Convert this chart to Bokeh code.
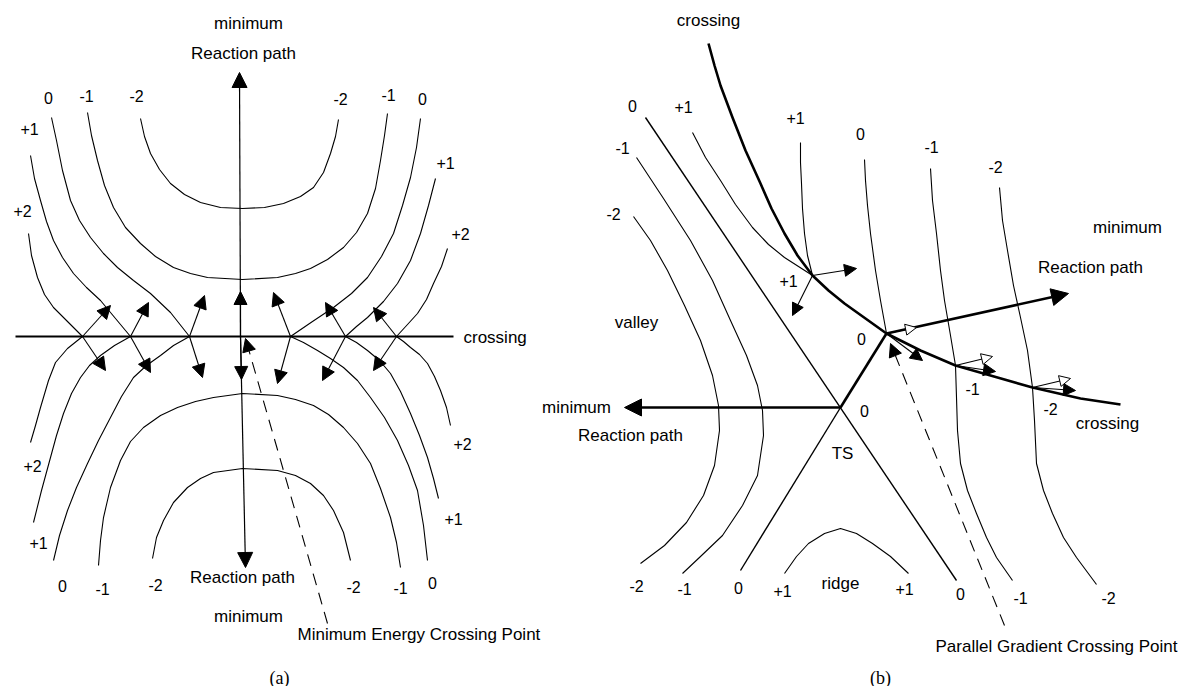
from bokeh.plotting import figure
from bokeh.models import Range1d, Arrow, NormalHead, ColumnDataSource
from bokeh.embed import file_html
from bokeh.resources import INLINE
from bokeh.core.properties import value

# ---------------- Panel (a) data (image-pixel coordinates) ----------------
a_seam = [(15, 336), (453, 336)]
a_p2_ul = [(28,233),(31,255),(37,277),(44,294),(53,307),(66,320),(82,336)]
a_p1_ul = [(30,155),(34,178),(40,200),(46,221),(53,240),(62,257),(73,273),(86,287),(100,300),(115,318),(130,336)]
a_0_ul = [(51,117),(56,140),(62,170),(70,200),(79,220),(90,237),(103,253),(117,267),(133,280),(150,293),(170,312),(189,336)]
a_m1_u = [(87,112),(91,135),(97,160),(104,185),(113,207),(125,227),(140,243),(155,256),(173,267),(190,273),(207,277),(242,279),
          (277,277),(295,273),(310,268),(327,259),(343,247),(356,232),(367,213),(375,188),(380,160),(384,135),(387,113)]
a_m2_u = [(140,118),(144,136),(150,153),(159,169),(170,183),(184,194),(200,202),(220,207),(242,208),(264,207),(283,203),
          (300,196),(313,187),(323,172),(330,153),(335,136),(338,119)]
a_0_ur = [(420,118),(416,147),(410,177),(402,205),(393,233),(381,256),(367,277),(351,293),(333,307),(312,321),(290,336)]
a_p1_ur = [(435,178),(428,205),(420,233),(410,260),(397,283),(383,301),(367,317),(356,326),(345,336)]
a_p2_ur = [(447,248),(441,266),(433,283),(426,299),(417,313),(407,324),(396,336)]
a_p2_ll = [(82,336),(67,348),(55,362),(48,380),(40,407),(35,425),(30,442)]
a_p1_ll = [(130,336),(114,345),(100,355),(89,365),(80,377),(71,393),(63,413),(56,435),(50,457),(41,490),(33,522)]
a_0_ll = [(189,336),(173,345),(160,355),(146,365),(133,377),(121,396),(110,417),(98,440),(87,463),(76,487),(67,510),(59,535),(53,560)]
a_m1_l = [(98,565),(100,540),(103,517),(110,487),(120,460),(130,441),(143,427),(160,415),(177,407),(195,401),(213,397),(242,393),
          (277,395),(295,399),(313,405),(328,414),(343,427),(357,443),(370,463),(380,488),(390,517),(396,542),(400,567)]
a_m2_l = [(152,558),(156,537),(163,520),(173,502),(187,487),(200,478),(213,472),(242,468),(277,470),(295,475),(310,483),
          (323,495),(333,510),(343,532),(350,560)]
a_0_lr = [(290,336),(303,342),(317,350),(330,358),(343,367),(357,380),(370,397),(384,417),(397,440),(408,465),(417,490),(423,525),(427,560)]
a_p1_lr = [(345,336),(356,342),(367,350),(379,360),(390,373),(400,391),(410,413),(419,435),(427,457),(433,478),(438,498)]
a_p2_lr = [(396,336),(403,341),(410,347),(419,354),(427,363),(434,376),(440,390),(446,407),(450,425)]

a_seam_pts_x = [82, 130, 189, 290, 345, 396]
a_seam_y = 336
a_up_tips = [(110,305),(148,302),(204,295),(273,292),(325,302),(373,307)]
a_down_tips = [(105,370),(150,372),(202,377),(277,383),(322,380),(373,370)]
a_path_center = (240, 336)
a_path_ends = [(239,72),(245,567)]
a_path_mid_tips = [(240,291),(241,379)]
a_dash = [(327,623),(245,338)]

a_lbl_text = ["0","-1","-2","-2","-1","0","+1","+1","+2","+2",
              "+2","+1","0","-1","-2","-2","-1","0","+1","+2"]
a_lbl_x = [48,86,136,340,388,422,29,445,22,460, 32,38,62,102,155,353,400,432,453,462]
a_lbl_y = [97,95,95,98,94,98,128,162,210,233, 465,542,585,588,584,586,587,582,518,443]
a_words = ["minimum","Reaction path","Reaction path","minimum"]
a_words_x = [248,243,242,248]
a_words_y = [23,53,577,616]

# ---------------- Panel (b) data ----------------
b_cross_top = [(708,43),(714,65),(720,85),(726,101),(732,117),(745,150),(760,183),(771,208),(784,233),(797,255),
               (812,275),(828,290),(844,303),(865,318),(886,333)]
b_cross_bot = [(886,333),(920,350),(955,365),(997,377),(1032,387),(1080,398),(1120,404)]
b_p1_a = [(692,132),(705,157),(720,180),(735,204),(752,227),(768,244),(784,257),(798,266),(812,275)]
b_p1_b = [(800,142),(800,162),(801,183),(802,208),(804,233),(807,255),(812,275)]
b_0_r = [(864,159),(865,180),(867,205),(870,233),(875,270),(880,300),(886,333)]
b_m1_r = [(930,168),(932,200),(936,233),(940,270),(944,300),(950,335),(955,365),(956,397),(957,430),(960,463),
          (967,490),(976,513),(986,537),(996,557),(1012,580)]
b_m2_r = [(999,187),(1002,220),(1007,250),(1013,285),(1020,317),(1027,350),(1032,387),(1034,420),(1036,463),
          (1043,490),(1052,513),(1063,537),(1076,557),(1096,584)]
b_m1_l = [(636,157),(663,198),(690,240),(712,280),(730,320),(746,355),(757,385),(762,410),(763,435),(757,475),
          (742,505),(722,535),(700,556),(682,573)]
b_m2_l = [(633,216),(650,240),(667,270),(684,305),(700,340),(712,375),(718,405),(719,430),(714,465),(703,495),
          (686,522),(664,545),(640,563)]
b_ts_a = [(645,117),(956,580)]
b_ts_b = [(740,570),(840,407)]
b_ts_thick = [(840,407),(886,333)]
b_ridge = [(784,573),(796,556),(808,543),(824,533),(840,528),(856,533),(872,543),(890,556),(908,573)]

b_path_right = [(886,333),(1068,293)]
b_path_left = [(840,407),(624,407)]
b_small_filled = [((812,275),(856,268)),((812,275),(792,315)),((886,333),(922,360)),
                  ((955,365),(995,371)),((1032,387),(1075,390))]
b_small_open = [((886,333),(916,327)),((955,365),(992,356)),((1032,387),(1070,378))]
b_dash = [(1004,625),(890,343)]

b_lbl_text = ["0","+1","+1","0","-1","-2","-1","-2","+1","0","0","-1","-2",
              "-2","-1","0","+1","+1","0","-1","-2"]
b_lbl_x = [632,683,795,860,931,995,622,613,788,861,864,972,1050, 636,684,738,782,904,960,1020,1108]
b_lbl_y = [105,106,117,133,146,166,147,213,280,338,410,388,408, 585,588,587,590,588,593,597,597]
b_words = ["crossing","minimum","Reaction path","valley","minimum","Reaction path","TS","crossing","ridge"]
b_words_x = [708,1127,1090,636,576,630,842,1107,840]
b_words_y = [20,227,267,322,407,435,453,423,583]

left_notes = ["Minimum Energy Crossing Point","Parallel Gradient Crossing Point"]
left_notes_x = [297,935]
left_notes_y = [634,646]
panel_tags = ["(a)","(b)"]
panel_tags_x = [279,880]
panel_tags_y = [677,677]

# ---------------- figure ----------------
W, H = 1180, 686
p = figure(width=W, height=H, x_range=Range1d(0, W), y_range=Range1d(H, 0),
           output_backend="svg", toolbar_location=None, min_border=0,
           x_axis_location=None, y_axis_location=None)
p.grid.visible = False
p.outline_line_color = None
p.background_fill_color = "white"
p.border_fill_color = "white"

def xs_ys(curves):
    return [[q[0] for q in c] for c in curves], [[q[1] for q in c] for c in curves]

thin = [a_p2_ul, a_p1_ul, a_0_ul, a_m1_u, a_m2_u, a_0_ur, a_p1_ur, a_p2_ur,
        a_p2_ll, a_p1_ll, a_0_ll, a_m1_l, a_m2_l, a_0_lr, a_p1_lr, a_p2_lr,
        b_p1_a, b_p1_b, b_0_r, b_m1_r, b_m2_r, b_m1_l, b_m2_l, b_ridge]
xs, ys = xs_ys(thin)
p.multi_line(xs, ys, line_color="black", line_width=1.1, line_join="round")

xs, ys = xs_ys([b_ts_a, b_ts_b])
p.multi_line(xs, ys, line_color="black", line_width=1.4)

xs, ys = xs_ys([a_seam])
p.multi_line(xs, ys, line_color="black", line_width=2.2)

xs, ys = xs_ys([b_cross_top, b_cross_bot, b_ts_thick])
p.multi_line(xs, ys, line_color="black", line_width=2.6, line_join="round")

def add_arrows(starts, ends, lw, size, fill="black", dash="solid"):
    src = ColumnDataSource(dict(x0=[s[0] for s in starts], y0=[s[1] for s in starts],
                                x1=[e[0] for e in ends], y1=[e[1] for e in ends]))
    p.add_layout(Arrow(x_start="x0", y_start="y0", x_end="x1", y_end="y1", source=src,
                       line_color="black", line_width=lw, line_dash=dash,
                       end=NormalHead(size=size, fill_color=fill, line_color="black", line_width=1)))

# (a) gradient arrows at the seam
starts = [(x, a_seam_y) for x in a_seam_pts_x]
add_arrows(starts, a_up_tips, 1.1, 13)
add_arrows(starts, a_down_tips, 1.1, 13)
add_arrows([a_path_center, a_path_center], a_path_ends, 1.2, 15)
add_arrows([a_path_center, a_path_center], a_path_mid_tips, 1.2, 13)
add_arrows([a_dash[0]], [a_dash[1]], 1.1, 13, dash="12 8")

# (b)
add_arrows([b_path_right[0], b_path_left[0]], [b_path_right[1], b_path_left[1]], 2.6, 17)
add_arrows([s for s, e in b_small_filled], [e for s, e in b_small_filled], 1.1, 12)
add_arrows([s for s, e in b_small_open], [e for s, e in b_small_open], 1.1, 11, fill="white")
add_arrows([b_dash[0]], [b_dash[1]], 1.1, 13, dash="12 8")

font = value("Liberation Sans")
def add_text(t, x, y, align="center", size="17px", f=font):
    p.text(x=x, y=y, text=t, text_font=f, text_font_size=value(size), text_color="black",
           text_align=align, text_baseline="middle")

add_text(a_lbl_text, a_lbl_x, a_lbl_y, size="16px")
add_text(a_words, a_words_x, a_words_y)
add_text(["crossing"], [463], [337], align="left")
add_text(b_lbl_text, b_lbl_x, b_lbl_y, size="16px")
add_text(b_words, b_words_x, b_words_y)
add_text(left_notes, left_notes_x, left_notes_y, align="left")
add_text(panel_tags, panel_tags_x, panel_tags_y, size="18px", f=value("Liberation Serif"))

open("out.html", "w").write(file_html(p, INLINE))
